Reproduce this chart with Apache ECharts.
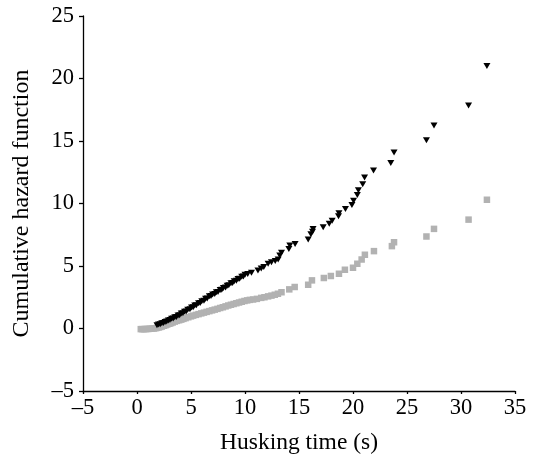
<!DOCTYPE html>
<html>
<head>
<meta charset="utf-8">
<script src="https://cdn.jsdelivr.net/npm/echarts@6/dist/echarts.min.js"></script>
<style>
html,body{margin:0;padding:0;background:#fff;}
#chart{width:533px;height:460px;}
</style>
</head>
<body>
<div id="chart"></div>
<script>
// Axis ticks
var xTicks = { min: -5, max: 35, interval: 5 };
var yTicks = { min: -5, max: 25, interval: 5 };
var xTitle = 'Husking time (s)';
var yTitle = 'Cumulative hazard function';

// Black down-triangles: husking time (s)
var blackX = [1.85, 2.0, 2.15, 2.3, 2.45, 2.6, 2.75, 2.9, 3.05, 3.2, 3.35, 3.5, 3.65, 3.8, 3.95, 4.1, 4.25, 4.4, 4.55, 4.7, 4.9, 5.05, 5.2, 5.35, 5.5, 5.7, 5.85, 6.0, 6.2, 6.35, 6.5, 6.7, 6.85, 7.0, 7.2, 7.35, 7.5, 7.7, 7.85, 8.0, 8.2, 8.35, 8.5, 8.7, 8.85, 9.0, 9.2, 9.35, 9.5, 9.7, 9.85, 10.0, 10.25, 10.6, 11.2, 11.5, 11.74, 12.14, 12.45, 12.8, 13.07, 13.22, 13.38, 14.06, 14.15, 14.64, 15.85, 16.1, 16.25, 16.3, 17.24, 17.8, 18.07, 18.66, 18.7, 19.3, 19.9, 20.05, 20.4, 20.5, 20.9, 21.07, 21.9, 23.5, 23.8, 26.8, 27.5, 30.7, 32.4];
var blackY = [0.27, 0.33, 0.35, 0.43, 0.45, 0.53, 0.56, 0.65, 0.68, 0.78, 0.8, 0.91, 0.92, 1.04, 1.06, 1.2, 1.22, 1.35, 1.37, 1.5, 1.55, 1.68, 1.7, 1.84, 1.86, 2.02, 2.04, 2.19, 2.23, 2.39, 2.41, 2.58, 2.6, 2.73, 2.77, 2.9, 2.92, 3.08, 3.1, 3.25, 3.29, 3.43, 3.46, 3.62, 3.64, 3.78, 3.83, 3.97, 3.99, 4.14, 4.17, 4.3, 4.36, 4.46, 4.65, 4.8, 4.92, 5.18, 5.31, 5.4, 5.52, 5.84, 6.06, 6.37, 6.64, 6.77, 7.12, 7.55, 7.75, 7.97, 8.1, 8.39, 8.63, 8.98, 9.22, 9.56, 9.88, 10.22, 10.68, 11.07, 11.55, 12.09, 12.64, 13.25, 14.08, 15.06, 16.25, 17.85, 21.0];

// Grey squares: husking time (s)
var greyX = [0.35, 0.5, 0.65, 0.8, 0.95, 1.1, 1.25, 1.4, 1.55, 1.7, 1.85, 2.0, 2.15, 2.3, 2.5, 2.65, 2.8, 3.0, 3.15, 3.3, 3.5, 3.7, 3.9, 4.1, 4.3, 4.5, 4.75, 5.0, 5.2, 5.45, 5.7, 5.95, 6.2, 6.45, 6.7, 6.95, 7.2, 7.45, 7.7, 7.95, 8.2, 8.45, 8.7, 8.95, 9.2, 9.45, 9.7, 9.95, 10.2, 10.45, 10.75, 11.1, 11.5, 11.8, 12.14, 12.45, 12.76, 13.05, 13.38, 14.1, 14.6, 15.85, 16.2, 17.3, 17.95, 18.7, 19.25, 20.0, 20.4, 20.8, 21.1, 21.94, 23.6, 23.8, 26.8, 27.5, 30.7, 32.4];
var greyY = [-0.05, -0.05, -0.05, -0.04, -0.04, -0.03, -0.02, -0.01, 0.0, 0.02, 0.05, 0.08, 0.12, 0.16, 0.22, 0.27, 0.32, 0.38, 0.43, 0.48, 0.55, 0.61, 0.66, 0.71, 0.77, 0.83, 0.9, 0.97, 1.03, 1.09, 1.15, 1.21, 1.27, 1.33, 1.39, 1.45, 1.51, 1.57, 1.64, 1.7, 1.77, 1.84, 1.9, 1.96, 2.02, 2.08, 2.14, 2.2, 2.25, 2.29, 2.32, 2.37, 2.45, 2.5, 2.57, 2.63, 2.7, 2.78, 2.9, 3.13, 3.32, 3.5, 3.85, 4.04, 4.2, 4.38, 4.7, 4.86, 5.18, 5.52, 5.9, 6.19, 6.59, 6.9, 7.36, 7.97, 8.71, 10.3];

function pairs(xs, ys) {
  var out = [];
  for (var i = 0; i < xs.length; i++) out.push([xs[i], ys[i]]);
  return out;
}
function fmt(v) { return String(v).replace('-', '\u2013'); }

var font = '"Liberation Serif", "Times New Roman", serif';
var chart = echarts.init(document.getElementById('chart'), null, { renderer: 'canvas' });
chart.setOption({
  animation: false,
  backgroundColor: '#fff',
  grid: { left: 83, right: 18, top: 16, bottom: 67, containLabel: false },
  xAxis: {
    type: 'value', min: xTicks.min, max: xTicks.max, interval: xTicks.interval,
    name: xTitle, nameLocation: 'middle', nameGap: 40,
    nameTextStyle: { fontFamily: font, fontSize: 23.5, color: '#000' },
    axisLine: { onZero: false, lineStyle: { color: '#000', width: 1.3 } },
    axisTick: { show: true, inside: false, length: 3, lineStyle: { color: '#000', width: 1.3 } },
    axisLabel: { formatter: fmt, fontFamily: font, fontSize: 22.5, color: '#000', margin: 6 },
    splitLine: { show: false }
  },
  yAxis: {
    type: 'value', min: yTicks.min, max: yTicks.max, interval: yTicks.interval,
    name: yTitle, nameLocation: 'middle', nameGap: 49,
    nameTextStyle: { fontFamily: font, fontSize: 24, color: '#000' },
    axisLine: { onZero: false, lineStyle: { color: '#000', width: 1.3 } },
    axisTick: { show: true, inside: false, length: 4, lineStyle: { color: '#000', width: 1.3 } },
    axisLabel: { formatter: fmt, fontFamily: font, fontSize: 22.5, color: '#000', margin: 9 },
    splitLine: { show: false }
  },
  series: [
    {
      type: 'scatter', name: 'grey', data: pairs(greyX, greyY),
      symbol: 'rect', symbolSize: 6.5,
      itemStyle: { color: '#b2b2b2', opacity: 1 }
    },
    {
      type: 'scatter', name: 'black', data: pairs(blackX, blackY),
      symbol: 'triangle', symbolRotate: 180, symbolSize: [7, 6],
      itemStyle: { color: '#000', opacity: 1 }
    }
  ]
});
</script>
</body>
</html>
